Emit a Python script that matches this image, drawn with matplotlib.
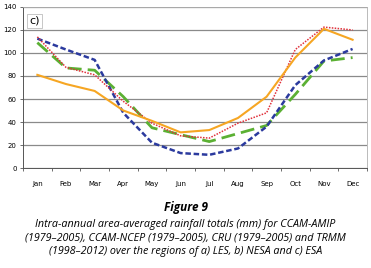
import matplotlib.pyplot as plt
import numpy as np

months = ["Jan", "Feb", "Mar", "Apr", "May", "Jun", "Jul", "Aug", "Sep", "Oct", "Nov", "Dec"]
ccam_amip = [112.5, 103, 94, 48, 22, 13, 11.5, 17, 36, 72, 93.5, 103.5]
ccam_ncep = [114, 87.5, 81, 58, 39, 28, 26, 39, 48, 103, 122.5, 120]
cru = [109, 87, 85, 62, 35, 29, 23, 30, 37, 64, 93, 96]
trmm = [81, 73, 67, 50, 41, 31, 33, 43.5, 62, 96, 121, 111.5]

fig = plt.figure(figsize=(3.71, 2.68), dpi=100)
ax = fig.add_axes([0.062, 0.373, 0.927, 0.601])

x = np.arange(len(months))
ax.plot(x, cru, color="#5BB033", linewidth=2.0, dashes=(5, 2.2), zorder=3)
ax.plot(x, ccam_amip, color="#2B3A9E", linewidth=1.8, dashes=(2.2, 1.1), zorder=4)
ax.plot(x, ccam_ncep, color="#E0303A", linewidth=1.1, dashes=(1, 0.9), zorder=5)
ax.plot(x, trmm, color="#F6A623", linewidth=1.5, zorder=6)

ax.set_xlim(-0.5, 11.5)
ax.set_ylim(0, 140)
ax.set_yticks(range(0, 141, 20))
ax.set_xticks(x)
ax.set_xticklabels(months)
ax.set_xticks(np.arange(-0.5, 12, 1), minor=True)
ax.tick_params(axis="x", which="major", length=0, pad=9, labelsize=5)
ax.tick_params(axis="x", which="minor", length=2.5, width=0.6, color="#555555")
ax.tick_params(axis="y", length=2.5, width=0.6, labelsize=5, pad=2, color="#555555")
ax.grid(axis="y", color="#8a8a8a", linewidth=0.9)
for s in ["top", "right"]:
    ax.spines[s].set_color("#b0b0b0")
    ax.spines[s].set_linewidth(0.6)
for s in ["left", "bottom"]:
    ax.spines[s].set_color("#555555")
    ax.spines[s].set_linewidth(0.7)

ax.text(0.018, 0.945, "c)", transform=ax.transAxes, fontsize=8, va="top", ha="left",
        bbox=dict(facecolor="white", edgecolor="#b0b0b0", linewidth=0.5, pad=1.5))

fig.text(0.5, 0.226, "Figure 9", ha="center", va="center", fontsize=8.5,
         fontweight="bold", style="italic", family="Open Sans")
caption = ("Intra-annual area-averaged rainfall totals (mm) for CCAM-AMIP\n"
           "(1979\u20132005), CCAM-NCEP (1979\u20132005), CRU (1979\u20132005) and TRMM\n"
           "(1998\u20132012) over the regions of a) LES, b) NESA and c) ESA")
fig.text(0.5, 0.113, caption, ha="center", va="center", fontsize=7.75,
         style="italic", family="Open Sans", linespacing=1.33)

fig.savefig("out.png", dpi=100)
